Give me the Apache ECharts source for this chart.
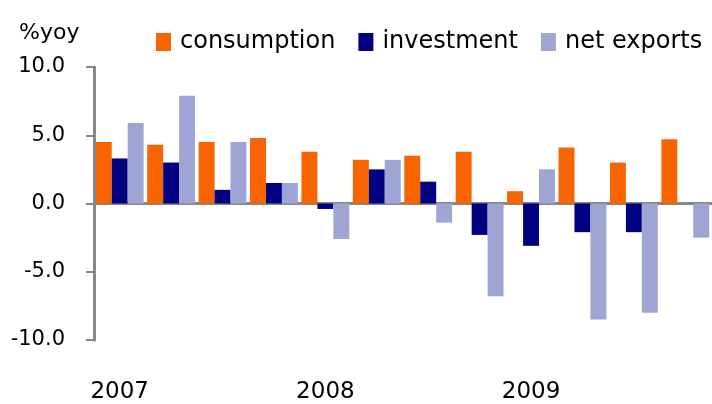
<!DOCTYPE html>
<html>
<head>
<meta charset="utf-8">
<script src="https://cdn.jsdelivr.net/npm/echarts@6/dist/echarts.min.js"></script>
<style>
  html, body { margin: 0; padding: 0; background: #fff; }
  #chart { width: 712px; height: 404px; }
</style>
</head>
<body>
<div id="chart"></div>
<script>
// quarters 2007Q1 .. 2009Q4
const quarters = ['2007Q1', '2007Q2', '2007Q3', '2007Q4', '2008Q1', '2008Q2', '2008Q3', '2008Q4', '2009Q1', '2009Q2', '2009Q3', '2009Q4'];
const yearLabels = ['2007', '', '', '', '2008', '', '', '', '2009', '', '', ''];
const consumption = [4.5, 4.3, 4.5, 4.8, 3.8, 3.2, 3.5, 3.8, 0.9, 4.1, 3.0, 4.7];
const investment = [3.3, 3.0, 1.0, 1.5, -0.4, 2.5, 1.6, -2.3, -3.1, -2.1, -2.1, 0];
const netExports = [5.9, 7.9, 4.5, 1.5, -2.6, 3.2, -1.4, -6.8, 2.5, -8.5, -8.0, -2.5];
const yTicks = [-10, -5, 0, 5, 10];

const FONT = 'DejaVu Sans';
const AXIS_GREY = '#878787';

const chart = echarts.init(document.getElementById('chart'));
chart.setOption({
  animation: false,
  title: {
    text: '%yoy',
    left: 14,
    top: 17,
    textStyle: { fontFamily: FONT, fontSize: 22, fontWeight: 'normal', color: '#000' },
  },
  legend: {
    left: 151,
    top: 25,
    itemWidth: 15,
    itemHeight: 18,
    itemGap: 23,
    icon: 'rect',
    textStyle: { fontFamily: FONT, fontSize: 24, color: '#000', padding: [0, 0, 0, 4] },
  },
  grid: { left: 94, right: 1, top: 67, bottom: 60 },
  xAxis: [{
    type: 'category',
    data: quarters,
    axisLine: { onZero: true, lineStyle: { color: AXIS_GREY, width: 3 } },
    axisTick: { length: 10, lineStyle: { color: AXIS_GREY, width: 2 } },
    axisLabel: { show: false },
  }, {
    type: 'category',
    data: quarters,
    position: 'bottom',
    axisLine: { show: false, onZero: false },
    axisTick: { show: false },
    axisLabel: {
      interval: 0,
      margin: 41,
      fontFamily: FONT,
      fontSize: 23,
      color: '#000',
      formatter: (val, idx) => yearLabels[idx],
    },
  }],
  yAxis: {
    type: 'value',
    min: yTicks[0],
    max: yTicks[yTicks.length - 1],
    interval: 5,
    splitLine: { show: false },
    axisLine: { show: true, lineStyle: { color: AXIS_GREY, width: 3 } },
    axisTick: { show: true, length: 8, lineStyle: { color: AXIS_GREY, width: 2 } },
    axisLabel: {
      margin: 29,
      fontFamily: FONT,
      fontSize: 21,
      color: '#000',
      formatter: (v) => v.toFixed(1),
    },
  },
  series: [
    { name: 'consumption', type: 'bar', data: consumption, barGap: '0%', barCategoryGap: '7%', itemStyle: { color: '#f76400' } },
    { name: 'investment', type: 'bar', data: investment, barGap: '0%', barCategoryGap: '7%', itemStyle: { color: '#000080' } },
    { name: 'net exports', type: 'bar', data: netExports, barGap: '0%', barCategoryGap: '7%', itemStyle: { color: '#9ea5d4' } },
  ],
});
</script>
</body>
</html>
